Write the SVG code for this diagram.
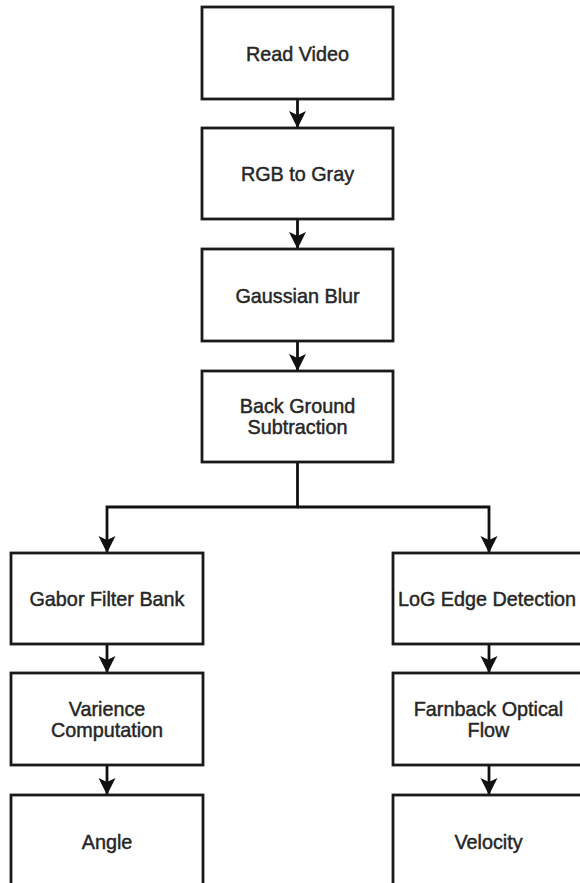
<svg xmlns="http://www.w3.org/2000/svg" width="580" height="883" viewBox="0 0 580 883">
  <defs>
    <style>
      .box { fill: #ffffff; stroke: #1a1a1a; stroke-width: 2.8; }
      .lbl { font-family: "Liberation Sans", Arial, sans-serif; font-size: 19.8px; fill: #262626; text-anchor: middle; stroke: #262626; stroke-width: 0.45; }
      .edge { fill: none; stroke: #111111; stroke-width: 2.8; }
    </style>
    <marker id="arrow" markerUnits="userSpaceOnUse" markerWidth="20" markerHeight="20" viewBox="-18 -10 20 20" refX="0" refY="0" orient="auto">
      <path d="M0,0 L-17,-8.5 L-13,0 L-17,8.5 Z" fill="#111111"/>
    </marker>
  </defs>
  <rect width="580" height="883" fill="#ffffff"/>

  <!-- connectors -->
  <g id="connectors">
    <line class="edge" x1="297.5" y1="99" x2="297.5" y2="128" marker-end="url(#arrow)"/>
    <line class="edge" x1="297.5" y1="219" x2="297.5" y2="249" marker-end="url(#arrow)"/>
    <line class="edge" x1="297.5" y1="341" x2="297.5" y2="371" marker-end="url(#arrow)"/>
    <polyline class="edge" points="297.5,462 297.5,507 107,507 107,553" marker-end="url(#arrow)"/>
    <polyline class="edge" points="297.5,507 489,507 489,553" marker-end="url(#arrow)"/>
    <line class="edge" x1="107" y1="644" x2="107" y2="673" marker-end="url(#arrow)"/>
    <line class="edge" x1="107" y1="765" x2="107" y2="795" marker-end="url(#arrow)"/>
    <line class="edge" x1="489" y1="644" x2="489" y2="673" marker-end="url(#arrow)"/>
    <line class="edge" x1="489" y1="765" x2="489" y2="795" marker-end="url(#arrow)"/>
  </g>

  <!-- main chain -->
  <g id="read-video">
    <rect class="box" x="202" y="7" width="191" height="92"/>
    <text class="lbl" x="297.5" y="61">Read Video</text>
  </g>
  <g id="rgb-to-gray">
    <rect class="box" x="202" y="128" width="191" height="91"/>
    <text class="lbl" x="297.5" y="181">RGB to Gray</text>
  </g>
  <g id="gaussian-blur">
    <rect class="box" x="202" y="249" width="191" height="92"/>
    <text class="lbl" x="297.5" y="303">Gaussian Blur</text>
  </g>
  <g id="background-subtraction">
    <rect class="box" x="202" y="371" width="191" height="91"/>
    <text class="lbl" x="297.5" y="413">Back Ground</text>
    <text class="lbl" x="297.5" y="434">Subtraction</text>
  </g>

  <!-- left branch -->
  <g id="gabor-filter-bank">
    <rect class="box" x="11" y="553" width="192" height="91"/>
    <text class="lbl" x="107" y="606">Gabor Filter Bank</text>
  </g>
  <g id="variance-computation">
    <rect class="box" x="11" y="673" width="192" height="92"/>
    <text class="lbl" x="107" y="716">Varience</text>
    <text class="lbl" x="107" y="737">Computation</text>
  </g>
  <g id="angle">
    <rect class="box" x="11" y="795" width="192" height="92"/>
    <text class="lbl" x="107" y="849">Angle</text>
  </g>

  <!-- right branch -->
  <g id="log-edge-detection">
    <rect class="box" x="393" y="553" width="192" height="91"/>
    <text class="lbl" x="487" y="606">LoG Edge Detection</text>
  </g>
  <g id="farnback-optical-flow">
    <rect class="box" x="393" y="673" width="192" height="92"/>
    <text class="lbl" x="488.5" y="716">Farnback Optical</text>
    <text class="lbl" x="488.5" y="737">Flow</text>
  </g>
  <g id="velocity">
    <rect class="box" x="393" y="795" width="192" height="92"/>
    <text class="lbl" x="488.5" y="849">Velocity</text>
  </g>
</svg>
